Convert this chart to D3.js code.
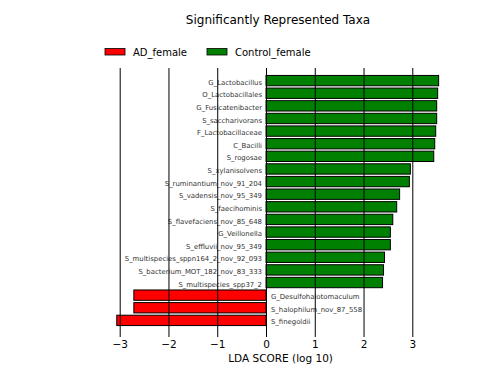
<!DOCTYPE html>
<html><head><meta charset="utf-8">
<script src="https://cdn.jsdelivr.net/npm/d3@7"></script>
<style>body{margin:0;background:#fff}svg{display:block}</style>
</head><body>
<script>
const taxa = ["G_Lactobacillus","O_Lactobacillales","G_Fusicatenibacter","S_saccharivorans","F_Lactobacillaceae","C_Bacilli","S_rogosae","S_xylanisolvens","S_ruminantium_nov_91_204","S_vadensis_nov_95_349","S_faecihominis","S_flavefaciens_nov_85_648","G_Veillonella","S_effluvii_nov_95_349","S_multispecies_sppn164_2_nov_92_093","S_bacterium_MOT_182_nov_83_333","S_multispecies_spp37_2","G_Desulfohalotomaculum","S_halophilum_nov_87_558","S_finegoldii"];
const scores = [3.54,3.52,3.50,3.50,3.48,3.46,3.44,2.96,2.94,2.74,2.68,2.60,2.55,2.55,2.43,2.41,2.39,-2.71,-2.71,-3.06];
const groups = ["Control_female","Control_female","Control_female","Control_female","Control_female","Control_female","Control_female","Control_female","Control_female","Control_female","Control_female","Control_female","Control_female","Control_female","Control_female","Control_female","Control_female","AD_female","AD_female","AD_female"];
const legendNames = ["AD_female","Control_female"];
const legendColors = ["#ff0000","#008000"];
const xTicks = [-3,-2,-1,0,1,2,3];
const title = "Significantly Represented Taxa";
const xLabel = "LDA SCORE (log 10)";

(function(){
const W=504,H=378;
const svg=d3.select("body").append("svg").attr("width",W).attr("height",H);
const font="DejaVu Sans, sans-serif";
const color=d3.scaleOrdinal().domain(legendNames).range(legendColors);
const x=d3.scaleLinear().domain([0,3]).range([266,412.3]);
const yTop=68,yBot=333;
const y=d3.scaleLinear().domain([-1,taxa.length]).range([yTop,yBot]);
const pitch=(yBot-yTop)/(taxa.length+1);
const bh=pitch*0.82;

svg.append("text").attr("x",278).attr("y",24).attr("text-anchor","middle")
  .attr("font-family",font).attr("font-size",12).attr("fill","#000").text(title);

const lx=[105,207];
legendNames.forEach((n,i)=>{
  svg.append("rect").attr("x",lx[i]).attr("y",48.5).attr("width",20).attr("height",6.5)
    .attr("fill",legendColors[i]).attr("stroke","#000").attr("stroke-width",0.8);
  svg.append("text").attr("x",lx[i]+28).attr("y",56).attr("font-family",font)
    .attr("font-size",10).attr("fill","#000").text(n);
});

const g=svg.append("g");
g.selectAll("rect.bar").data(taxa).enter().append("rect").attr("class","bar")
  .attr("x",(d,i)=>Math.min(x(0),x(scores[i])))
  .attr("y",(d,i)=>y(i)-bh/2)
  .attr("width",(d,i)=>Math.abs(x(scores[i])-x(0)))
  .attr("height",bh)
  .attr("fill",(d,i)=>color(groups[i]))
  .attr("stroke","#000").attr("stroke-width",1);

const xAxis=d3.axisBottom(x).tickValues(xTicks).tickSize(yBot-yTop+4).tickPadding(4)
  .tickFormat(d=>d<0?"\u2212"+Math.abs(d):String(d));
const ax=svg.append("g").attr("transform",`translate(0,${yTop})`).call(xAxis);
ax.select(".domain").remove();
ax.selectAll(".tick line").attr("stroke","#000").attr("stroke-width",1);
ax.selectAll(".tick text").attr("font-family",font).attr("font-size",10.5).attr("fill","#000");

g.selectAll("text.lab").data(taxa).enter().append("text").attr("class","lab")
  .attr("x",(d,i)=>scores[i]>=0?x(0)-4:x(0)+5)
  .attr("y",(d,i)=>y(i)+2.2)
  .attr("dominant-baseline","middle")
  .attr("text-anchor",(d,i)=>scores[i]>=0?"end":"start")
  .attr("font-family",font).attr("font-size",6.9).attr("fill","#333")
  .text(d=>d);

svg.append("text").attr("x",x(0)+(x(1)-x(0))*0.3).attr("y",362).attr("text-anchor","middle")
  .attr("font-family",font).attr("font-size",10.5).attr("fill","#000").text(xLabel);
})();
</script>
</body></html>
